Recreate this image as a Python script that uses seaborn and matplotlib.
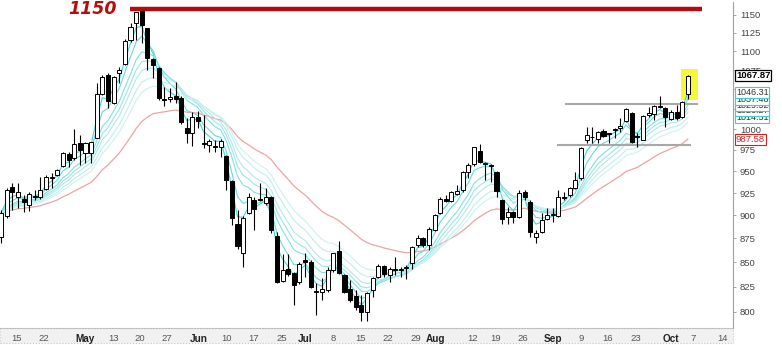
import numpy as np
import pandas as pd
import matplotlib
matplotlib.use("Agg")
import matplotlib.pyplot as plt
import matplotlib.transforms as mtransforms
from matplotlib.patches import Rectangle
from matplotlib.ticker import FixedLocator, NullLocator, FuncFormatter
import seaborn as sns

# ---------------- data ----------------
opens = [877, 899, 932, 920, 918, 912, 922, 920, 930, 942,
         946, 956, 970, 966, 983.5, 971.5, 971.5, 989.5, 1044, 1069,
         1032.7, 1071, 1083, 1115, 1139, 1160, 1132, 1090, 1078, 1038,
         1038, 1041.5, 1039, 1002, 995.5, 1015, 983.5, 981, 980, 979,
         968, 939, 891, 860, 903, 917, 918.5, 914, 921, 878,
         831, 843, 839, 830, 852.7, 850.6, 821, 820, 822, 842,
         862, 837, 823, 816, 807, 800, 822, 835, 846, 837,
         843, 842, 844, 849.6, 868.4, 875, 868, 884.4, 903, 918.5,
         916, 924, 929, 949, 958.6, 974, 960, 957.5, 949, 917.4,
         898.6, 904, 898.6, 926.4, 915, 877, 882, 896.4, 900, 899.7,
         920.8, 923, 931, 942.4, 987, 991, 988.3, 998, 995.5, 999.2,
         1001.6, 1010, 1020, 991.9, 987.1, 1017.7, 1019, 1028.9, 1026.4, 1012.7,
         1021.4, 1015.2, 1044]
highs = [906, 931, 937, 937, 923, 926, 929, 943, 946, 948,
         953, 973, 973, 1000, 993, 985, 985, 1058, 1069, 1071,
         1067, 1079, 1117, 1139, 1154, 1161, 1132, 1091, 1079, 1053,
         1052, 1060, 1041, 1014, 1021, 1023, 1018, 988, 987, 988,
         969, 940, 906, 899, 925, 921, 937, 931, 922, 882,
         859, 859, 840, 850, 860, 852.7, 829, 834, 845, 860,
         872, 838, 832, 822, 817, 820, 835, 848.5, 847.5, 845,
         855, 845, 847.5, 866.5, 879, 877, 887, 902, 920, 923,
         927.6, 934, 950, 960, 979, 982, 960.5, 958.6, 950.4, 918.5,
         909.6, 904.5, 928.7, 928.7, 917.4, 884.4, 903, 908.5, 908.5, 928.7,
         926.4, 932, 949, 978.7, 1003, 1003, 998, 1000.4, 996, 1001.6,
         1014, 1026.4, 1021, 995.5, 1017.7, 1027.7, 1030.2, 1041, 1027.7, 1024,
         1030.2, 1035.2, 1068.7]
lows = [870, 897, 906, 908, 904, 905, 917, 918, 929, 931,
        945, 955, 955, 963, 957, 960, 960, 989, 1043, 1026,
        1031.5, 1058, 1082, 1113, 1115, 1111, 1075, 1065, 1036.5, 1029,
        1034, 1033, 1006.5, 983.5, 980, 1002, 977.5, 973, 973, 967,
        929, 890, 864, 845, 902, 884, 916, 912, 881, 829,
        830, 836, 807, 828, 835, 824, 797, 812, 820, 840,
        838, 819, 810, 802, 791, 791, 815, 834, 835, 830,
        837, 835, 833, 843, 866, 866, 863, 883, 902, 915,
        915, 923, 926, 942, 956, 960, 940, 938, 921, 891,
        891, 892, 897.5, 917.4, 877, 870.5, 881, 895, 893, 898.6,
        917.4, 921, 930, 940, 983.5, 983.5, 983.5, 990.7, 983.5, 989.5,
        996.7, 1009, 983.5, 978.7, 986.5, 1015.2, 1011.5, 1026.4, 1002.8, 1011.5,
        1011.5, 1014, 1037.7]
closes = [903, 929, 926, 926, 915, 924, 921, 928, 943, 943.5,
          951.6, 971.5, 963, 982, 975, 983.5, 985, 1044, 1066, 1035,
          1066, 1075, 1114, 1133, 1154, 1136, 1091, 1082, 1039, 1037,
          1040, 1038, 1009, 995.5, 1015, 1010, 982.5, 986, 979, 986,
          940, 897.5, 867, 897.5, 921, 907, 917.5, 920, 884, 830,
          842, 837.5, 827, 848.5, 850.6, 825, 820, 823, 842, 860,
          839, 820, 812, 805, 800, 819, 834, 846, 838, 843,
          842, 843, 845, 866, 876, 868, 885.5, 901, 918.5, 916.5,
          926, 927.6, 949, 957, 978.7, 961, 959, 956.5, 927.6, 896,
          904, 898.6, 925, 920.8, 882, 881, 895, 900.8, 901.5, 920.8,
          919.7, 931, 940, 977.5, 993, 990.5, 996.7, 992, 994, 1000.4,
          1004, 1025, 984, 990.7, 1016.4, 1020.2, 1028.9, 1027.7, 1015.2, 1021.4,
          1014, 1033.9, 1067.87]

tick_days = [2.8, 7.6, 14.9, 19.9, 24.7, 29.5, 35.2, 40.1, 44.9, 49.9, 54.0,
             59.0, 63.9, 68.7, 73.7, 77.1, 83.8, 87.9, 92.7, 98.0, 103.0,
             107.8, 112.8, 119.0, 122.9, 128.1]
tick_labels = ['15', '22', 'May', '13', '20', '27', 'Jun', '10', '17', '25',
               'Jul', '8', '15', '22', '29', 'Aug', '12', '19', '26', 'Sep',
               '9', '16', '23', 'Oct', '7', '14']
month_names = ['May', 'Jun', 'Jul', 'Aug', 'Sep', 'Oct']
price_ticks = [800, 825, 850, 875, 900, 925, 950, 975, 1000, 1025,
               1050, 1075, 1100, 1125, 1150]

ribbon_spans = [3, 5, 8, 10, 12, 15, 18]
slow_span = 30
ribbon_tags = [1014.51, 1023.27, 1029.52, 1037.48, 1046.31]
last_tag = 1067.87
slow_tag = 987.58

resistance_level = 1158
resistance_text = "1150"
resistance_days = [22.9, 124.5]
upper_support = 1031.4
upper_support_days = [100.2, 123.8]
lower_support = 981
lower_support_days = [98.8, 122.6]
highlight_days = [120.8, 123.8]
highlight_prices = [1036, 1076.5]

# ---------------- figure ----------------
sns.set_theme(style="white")
plt.rcParams['font.family'] = ['Liberation Sans', 'DejaVu Sans']

W, H = 782, 345
fig = plt.figure(figsize=(W / 100, H / 100), dpi=100)
ax_left, ax_right, ax_top, ax_bottom = 0, 733, 2, 328
ax = fig.add_axes([ax_left / W, (H - ax_bottom) / H,
                   (ax_right - ax_left) / W, (ax_bottom - ax_top) / H])
ax.set_facecolor('white')

# label band at the bottom (behind the tick labels)
band = Rectangle((0, 2 / H), ax_right / W, (ax_bottom - (H - 2) + H - ax_bottom + 15 - (H - ax_bottom) + (H - ax_bottom)) / H * 0 + 15 / H,
                 transform=fig.transFigure, facecolor='#f1f1f1',
                 edgecolor='#c8c8c8', linestyle=':', linewidth=0.8, zorder=-5)
fig.patches.append(band)

ax.set_yscale('log')

o = np.array(opens, float)
h = np.array(highs, float)
l = np.array(lows, float)
c = np.array(closes, float)
days = np.arange(len(c))

# moving averages from the closes
frames = []
for s in ribbon_spans:
    frames.append(pd.DataFrame({'day': days,
                                'value': pd.Series(c).ewm(span=s, adjust=False).mean(),
                                'ma': f'EMA {s}'}))
ribbon = pd.concat(frames, ignore_index=True)
slow = pd.DataFrame({'day': days,
                     'value': pd.Series(c).ewm(span=slow_span, adjust=False).mean()})

cyan_palette = ['#45d5d5', '#66dbdb', '#82e0e0', '#9be5e5', '#afe9e9', '#c0eded', '#cdf1f1']
sns.lineplot(data=ribbon, x='day', y='value', hue='ma', palette=cyan_palette,
             linewidth=0.8, legend=False, ax=ax, zorder=2)
sns.lineplot(data=slow, x='day', y='value', color='#eba4a4', linewidth=0.9,
             ax=ax, zorder=1.5)

# highlight box
ax.add_patch(Rectangle((highlight_days[0], highlight_prices[0]),
                       highlight_days[1] - highlight_days[0],
                       highlight_prices[1] - highlight_prices[0],
                       facecolor='#f6f63a', edgecolor='none', zorder=1))

# horizontal levels
ax.hlines(resistance_level, *resistance_days, color='#b00e0e', linewidth=3.2, zorder=6)
ax.hlines(upper_support, *upper_support_days, color='#a8a8a8', linewidth=1.5, zorder=2.5)
ax.hlines(lower_support, *lower_support_days, color='#a8a8a8', linewidth=1.5, zorder=2.5)
ax.text(16.3, resistance_level, resistance_text, color='#b50d0d', fontsize=12.5,
        fontweight='bold', fontstyle='italic', family=['DejaVu Sans'],
        ha='center', va='center', zorder=7)

# candlesticks
up = c >= o
ax.vlines(days, l, h, color='black', linewidth=0.8, zorder=3)
body_low = np.minimum(o, c)
body_h = np.maximum(np.abs(c - o), 0.6)
ax.bar(days, body_h, bottom=body_low, width=0.72,
       color=np.where(up, 'white', 'black'), edgecolor='black',
       linewidth=0.7, zorder=4)

# axes limits / ticks
ax.set_xlim(-0.18, 130.0)
ax.set_ylim(784.3, 1168.4)
ax.set_xlabel('')
ax.set_ylabel('')
ax.yaxis.tick_right()
ax.yaxis.set_major_locator(FixedLocator(price_ticks))
ax.yaxis.set_minor_locator(NullLocator())
ax.yaxis.set_major_formatter(FuncFormatter(lambda v, p: f"{v:.0f}"))
ax.tick_params(axis='y', which='major', right=True, length=2, width=0.6,
               pad=3, labelsize=6.8, labelcolor='#444444', color='#999999')
ax.set_xticks(tick_days)
ax.set_xticklabels(tick_labels)
ax.tick_params(axis='x', bottom=True, length=0, pad=4, labelsize=6.8,
               labelcolor='#555555', labelbottom=True)
for lab in ax.get_xticklabels():
    if lab.get_text() in month_names:
        lab.set_fontweight('bold')
        lab.set_color('#222222')
        lab.set_fontsize(7.2)

for side in ['top', 'left']:
    ax.spines[side].set_visible(False)
ax.spines['right'].set_color('#a0a0a0')
ax.spines['right'].set_linewidth(0.8)
ax.spines['bottom'].set_color('#bbbbbb')
ax.spines['bottom'].set_linestyle(':')
ax.spines['bottom'].set_linewidth(0.8)

# price tags on the right
trans = mtransforms.blended_transform_factory(ax.transAxes, ax.transData)
for v in ribbon_tags:
    ax.text(1.004, v, f"{v:.2f}", transform=trans, ha='left', va='center',
            fontsize=6.5, color='#333333', clip_on=False, zorder=10,
            bbox=dict(boxstyle='square,pad=0.1', fc='white', ec='#3ccfcf', lw=0.8))
ax.text(1.004, slow_tag, f"{slow_tag:.2f}", transform=trans, ha='left', va='center',
        fontsize=6.8, color='#d42020', clip_on=False, zorder=10,
        bbox=dict(boxstyle='square,pad=0.12', fc='white', ec='#d42020', lw=0.8))
ax.text(1.004, last_tag, f"{last_tag:.2f}", transform=trans, ha='left', va='center',
        fontsize=6.8, color='black', fontweight='bold', clip_on=False, zorder=10,
        bbox=dict(boxstyle='square,pad=0.12', fc='white', ec='black', lw=0.9))

fig.savefig('out.png', dpi=100, facecolor='white')
